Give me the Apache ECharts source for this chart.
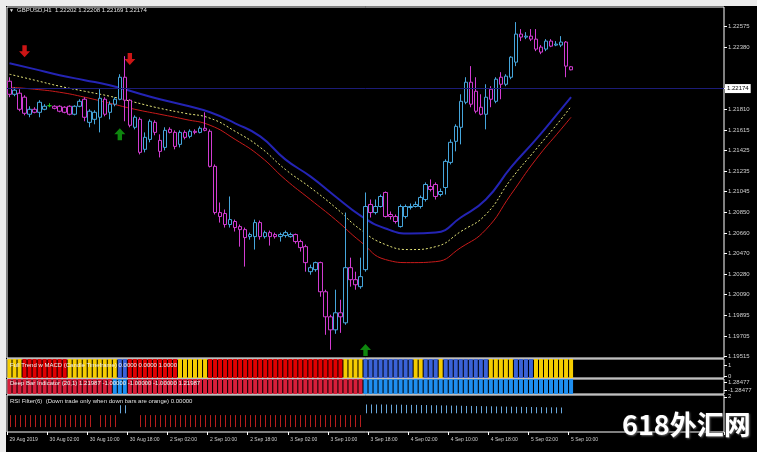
<!DOCTYPE html>
<html><head><meta charset="utf-8">
<script src="https://cdn.jsdelivr.net/npm/echarts@6/dist/echarts.min.js"></script>
<style>html,body{margin:0;padding:0;background:#000;}#c{width:757px;height:452px;}</style>
</head><body><div id="c"></div><script>
// ---------- DATA ----------
const symbol = 'GBPUSD,H1';
const openP = [1.22068,1.21947,1.21957,1.21920,1.21762,1.21808,1.21780,1.21808,1.21841,1.21836,1.21836,1.21827,1.21836,1.21762,1.21836,1.21901,1.21687,1.21715,1.21734,1.21901,1.21780,1.21855,1.21901,1.22105,1.21892,1.21641,1.21715,1.21437,1.21529,1.21687,1.21520,1.21455,1.21622,1.21594,1.21483,1.21594,1.21557,1.21604,1.21594,1.21632,1.21604,1.21279,1.20851,1.20842,1.20740,1.20768,1.20721,1.20693,1.20628,1.20628,1.20758,1.20628,1.20665,1.20647,1.20628,1.20638,1.20628,1.20647,1.20582,1.20535,1.20303,1.20322,1.20387,1.20117,1.19885,1.19764,1.19922,1.19829,1.20340,1.20229,1.20164,1.20322,1.20926,1.20851,1.20907,1.21037,1.20833,1.20814,1.20721,1.20814,1.20898,1.20907,1.20907,1.20972,1.21093,1.21111,1.21018,1.21083,1.21316,1.21511,1.21641,1.21873,1.22059,1.21975,1.21827,1.21762,1.21994,1.21882,1.22105,1.22040,1.22105,1.22245,1.22505,1.22477,1.22486,1.22458,1.22384,1.22366,1.22440,1.22403,1.22403,1.22431,1.22202];
const closeP = [1.21947,1.21985,1.21808,1.21771,1.21808,1.21780,1.21873,1.21836,1.21841,1.21817,1.21790,1.21780,1.21762,1.21836,1.21882,1.21734,1.21790,1.21780,1.21910,1.21762,1.21855,1.21901,1.22105,1.21892,1.21660,1.21734,1.21409,1.21548,1.21697,1.21594,1.21418,1.21613,1.21594,1.21464,1.21594,1.21548,1.21604,1.21594,1.21632,1.21613,1.21279,1.20851,1.20814,1.20740,1.20786,1.20712,1.20693,1.20619,1.20647,1.20758,1.20628,1.20665,1.20628,1.20628,1.20647,1.20665,1.20647,1.20582,1.20526,1.20387,1.20340,1.20387,1.20117,1.19885,1.19764,1.19922,1.19885,1.20340,1.20229,1.20182,1.20257,1.20907,1.20851,1.20907,1.21000,1.20814,1.20814,1.20768,1.20907,1.20907,1.20907,1.20926,1.20991,1.21111,1.21065,1.21000,1.21046,1.21325,1.21502,1.21650,1.21882,1.22059,1.21855,1.21790,1.21762,1.21920,1.21901,1.22087,1.22040,1.22115,1.22291,1.22505,1.22477,1.22486,1.22458,1.22366,1.22338,1.22440,1.22393,1.22412,1.22431,1.22208,1.22174];
const lowP = [1.21920,1.21929,1.21790,1.21752,1.21734,1.21771,1.21734,1.21799,1.21827,1.21808,1.21780,1.21771,1.21752,1.21752,1.21827,1.21697,1.21641,1.21669,1.21594,1.21743,1.21715,1.21836,1.21892,1.21697,1.21641,1.21622,1.21390,1.21409,1.21502,1.21567,1.21362,1.21427,1.21585,1.21437,1.21455,1.21529,1.21539,1.21576,1.21585,1.21604,1.21269,1.20833,1.20758,1.20712,1.20712,1.20675,1.20535,1.20350,1.20600,1.20508,1.20600,1.20610,1.20545,1.20610,1.20582,1.20619,1.20619,1.20563,1.20489,1.20303,1.20275,1.20303,1.20071,1.19718,1.19579,1.19727,1.19736,1.19811,1.20164,1.20136,1.20145,1.20303,1.20805,1.20833,1.20898,1.20805,1.20786,1.20749,1.20712,1.20796,1.20879,1.20898,1.20888,1.20953,1.21046,1.20972,1.21000,1.21018,1.21297,1.21418,1.21483,1.21855,1.21827,1.21771,1.21752,1.21622,1.21827,1.21864,1.21901,1.22022,1.22087,1.22208,1.22440,1.22458,1.22440,1.22347,1.22319,1.22347,1.22384,1.22393,1.22384,1.22105,1.22169];
const highP = [1.22105,1.22012,1.21994,1.21938,1.21836,1.21827,1.21892,1.21855,1.21864,1.21845,1.21845,1.21836,1.21845,1.21845,1.21901,1.21920,1.21808,1.21799,1.21994,1.21920,1.21882,1.21920,1.22133,1.22300,1.21901,1.21752,1.21734,1.21594,1.21715,1.21706,1.21576,1.21641,1.21641,1.21613,1.21613,1.21613,1.21622,1.21622,1.21650,1.21780,1.21622,1.21297,1.20944,1.20879,1.21000,1.20786,1.20740,1.20712,1.20665,1.20786,1.20777,1.20684,1.20684,1.20665,1.20665,1.20684,1.20665,1.20656,1.20600,1.20554,1.20368,1.20396,1.20396,1.20136,1.19904,1.20136,1.20043,1.20851,1.20433,1.20303,1.20433,1.21037,1.20972,1.20972,1.21018,1.21046,1.20861,1.20833,1.20926,1.20926,1.20935,1.20953,1.21009,1.21130,1.21158,1.21130,1.21074,1.21344,1.21529,1.21669,1.21947,1.22105,1.22208,1.22105,1.21947,1.22040,1.22022,1.22105,1.22152,1.22133,1.22300,1.22616,1.22551,1.22523,1.22551,1.22551,1.22403,1.22458,1.22458,1.22440,1.22486,1.22440,1.22208];

// moving averages, read at every 5th bar
const maIdx    = [0,5,10,15,20,25,30,35,40,45,50,55,60,65,70,75,80,85,90,95,100,105,110,112];
const maBlue   = [1.22235,1.22180,1.22124,1.22078,1.22031,1.21966,1.21901,1.21845,1.21780,1.21678,1.21557,1.21344,1.21186,1.21000,1.20823,1.20703,1.20656,1.20665,1.20805,1.20972,1.21269,1.21529,1.21808,1.21920];
const maYellow = [1.22133,1.22078,1.22022,1.21975,1.21929,1.21873,1.21817,1.21771,1.21725,1.21604,1.21455,1.21251,1.21083,1.20898,1.20693,1.20554,1.20508,1.20535,1.20675,1.20833,1.21158,1.21437,1.21715,1.21836];
const maRed    = [1.22013,1.21994,1.21966,1.21920,1.21864,1.21808,1.21762,1.21715,1.21660,1.21529,1.21372,1.21158,1.20972,1.20786,1.20582,1.20415,1.20387,1.20396,1.20526,1.20693,1.21018,1.21344,1.21623,1.21734];

const arrowDownIdx = [3, 24];
const arrowDownPrice = [1.22347, 1.22273];
const arrowUpIdx = [22, 71];
const arrowUpPrice = [1.21576, 1.19578];

const bidPrice = 1.22174;
const priceTicks = [1.22575,1.22380,1.22000,1.21810,1.21615,1.21425,1.21235,1.21045,1.20850,1.20660,1.20470,1.20280,1.20090,1.19895,1.19705,1.19515];

const tickIdx  = [0,8,16,24,32,40,48,56,64,72,80,88,96,104,112];
const tickText = ['29 Aug 2019','30 Aug 02:00','30 Aug 10:00','30 Aug 18:00','2 Sep 02:00','2 Sep 10:00','2 Sep 18:00','3 Sep 02:00','3 Sep 10:00','3 Sep 18:00','4 Sep 02:00','4 Sep 10:00','4 Sep 18:00','5 Sep 02:00','5 Sep 10:00'];

// indicator states per bar (Y=yellow, R=red, B=blue)
const trendState = 'YYYRRRRRRRRRYYYYYYYYYYBBRRRRRRRRRRYYYYYYRRRRRRRRRRRRRRRRRRRRRRRRRRRYYYYBBBBBBBBBBYYBBBYBBBBBBBBBYYYYYBBBBYYYYYYYY';
const deepState  = 'RRRRRRRRRRRRRRRRRRRRRBBBRRRRRRRRRRRRRRRRRRRRRRRRRRRRRRRRRRRRRRRRRRRRRRRBBBBBBBBBBBBBBBBBBBBBBBBBBBBBBBBBBBBBBBBBB';
// RSI filter: -1 down (red), 1 up (blue), 0 none
const rsiState = [-1,-1,-1,-1,-1,-1,-1,-1,-1,-1,-1,-1,-1,-1,-1,-1,-1,0,-1,-1,-1,-1,1,1,0,0,-1,-1,-1,-1,-1,-1,-1,-1,-1,-1,-1,-1,-1,-1,-1,-1,-1,-1,-1,-1,-1,-1,-1,-1,-1,-1,-1,-1,-1,-1,-1,-1,-1,-1,-1,-1,-1,-1,-1,-1,-1,-1,-1,-1,-1,1,1,1,1,1,1,1,1,1,1,1,1,1,1,1,1,1,1,1,1,1,1,1,1,1,1,1,1,1,1,1,1,1,1,1,1,1,1,1,1,1,0,0];
const rsiLow  = rsiState.map(s => s < 0 ? 0.28 : (s > 0 ? 1.06 : null));
const rsiHigh = [0.96,0.96,0.96,0.96,0.96,0.96,0.96,0.96,0.96,0.96,0.96,0.96,0.96,0.96,0.96,0.96,0.96,null,0.96,0.96,0.96,0.96,1.52,1.52,null,null,0.96,0.96,0.96,0.96,0.96,0.96,0.96,0.96,0.96,0.96,0.96,0.96,0.96,0.96,0.96,0.96,0.96,0.96,0.96,0.96,0.96,0.96,0.96,0.96,0.96,0.96,0.96,0.96,0.96,0.96,0.96,0.96,0.96,0.96,0.96,0.96,0.96,0.96,0.96,0.96,0.96,0.96,0.96,0.96,0.96,1.56,1.56,1.56,1.56,1.56,1.55,1.55,1.55,1.54,1.54,1.54,1.53,1.53,1.52,1.52,1.51,1.51,1.50,1.50,1.49,1.48,1.48,1.47,1.47,1.46,1.46,1.45,1.45,1.44,1.44,1.43,1.43,1.42,1.42,1.41,1.41,1.40,1.40,1.40,1.39,null,null];

const panel1Text = 'Full Trend w MACD (Candle Timeframe) 0.0000 0.0000 1.0000';
const panel2Text = 'Deep Bar Indicator (20,1) 1.21987 -1.00000 -1.00000 -1.00000 1.21987';
const panel3Text = 'RSI Filter(6)  (Down trade only when down bars are orange) 0.00000';
const panel1Ticks = [1, 0];
const panel2Ticks = [1.28477, -1.28477];
const panel3Ticks = [2];
const watermark = '618外汇网';

// ---------- CHART ----------
const N = openP.length;
const SLOTS = 143;
const cats = Array.from({length: SLOTS}, (_, i) => String(i));
const tickMap = new Map(tickIdx.map((k, j) => [k, tickText[j]]));
const FONT = "'Liberation Sans', Arial, sans-serif";
const colUp = '#46a6dc', colDown = '#d23cd2';
const trendCol = {Y: '#f5cd00', R: '#e00000', B: '#3a62d8'};
const deepCol = {R: '#d81e3a', B: '#1e8ef0'};

const candleData = openP.map((o, i) => {
  const item = {value: [o, closeP[i], lowP[i], highP[i]]};
  if (o === closeP[i]) item.itemStyle = {borderColor: '#20c020', borderColor0: '#20c020'};
  return item;
});

const L = 7, W = 717;
const grids = [
  {left: L, top: 7, width: W, height: 351},
  {left: L, top: 359, width: W, height: 19},
  {left: L, top: 379, width: W, height: 15},
  {left: L, top: 395, width: W, height: 37}
].map(g => Object.assign(g, {show: true, borderColor: '#ffffff', borderWidth: 1, backgroundColor: '#000'}));

function xAx(gi, show) {
  return {
    type: 'category', gridIndex: gi, data: cats, boundaryGap: true,
    axisLine: {show: false}, splitLine: {show: false},
    axisTick: show ? {show: true, interval: (i) => tickMap.has(i), length: 3, lineStyle: {color: '#fff'}} : {show: false},
    axisLabel: show ? {show: true, interval: (i) => tickMap.has(i), formatter: (v) => tickMap.get(+v) || '',
      align: 'left', margin: 5, color: '#d0d0d0', fontSize: 5, fontFamily: FONT} : {show: false}
  };
}
function hidY(gi, min, max) {
  return {type: 'value', gridIndex: gi, min, max, show: false, splitLine: {show: false}};
}
function labY(gi, min, max, vals, fmt) {
  return {
    type: 'value', gridIndex: gi, min, max, position: 'right', scale: true,
    axisLine: {show: false}, splitLine: {show: false},
    axisTick: {show: true, customValues: vals, length: 3, lineStyle: {color: '#fff'}},
    axisLabel: {show: true, customValues: vals, formatter: fmt, color: '#d0d0d0', fontSize: 6, fontFamily: FONT, margin: 4, align: 'left'}
  };
}

const option = {
  backgroundColor: '#000',
  animation: false,
  grid: grids,
  xAxis: [xAx(0, false), xAx(1, false), xAx(2, false), xAx(3, true)],
  yAxis: [
    labY(0, 1.19503, 1.22756, priceTicks, v => v.toFixed(5)),
    hidY(1, 0, 1),
    labY(1, -0.18, 1.545, panel1Ticks, v => String(Math.round(v))),
    hidY(2, 0, 1),
    labY(2, -2.409, 2.409, panel2Ticks, v => v.toFixed(5)),
    labY(3, 0, 2.1, panel3Ticks, v => String(Math.round(v)))
  ],
  series: [
    {type: 'line', xAxisIndex: 0, yAxisIndex: 0, data: maIdx.map((k, j) => [k, maBlue[j]]), smooth: 0.5, symbol: 'none',
      lineStyle: {color: '#2424b4', width: 2}, silent: true, z: 2},
    {type: 'line', xAxisIndex: 0, yAxisIndex: 0, data: maIdx.map((k, j) => [k, maYellow[j]]), smooth: 0.5, symbol: 'none',
      lineStyle: {color: '#e6e67a', width: 1, type: [2, 2]}, silent: true, z: 2},
    {type: 'line', xAxisIndex: 0, yAxisIndex: 0, data: maIdx.map((k, j) => [k, maRed[j]]), smooth: 0.5, symbol: 'none',
      lineStyle: {color: '#c81a1a', width: 1}, silent: true, z: 2},
    {type: 'candlestick', xAxisIndex: 0, yAxisIndex: 0, data: candleData, barWidth: 4, z: 3,
      itemStyle: {color: '#000', color0: '#000', borderColor: colUp, borderColor0: colDown, borderWidth: 1},
      markLine: {silent: true, symbol: 'none', data: [{yAxis: bidPrice}],
        lineStyle: {color: '#1c1c78', width: 1, type: 'solid'},
        label: {show: true, position: 'end', formatter: bidPrice.toFixed(5), backgroundColor: '#fff', color: '#000',
          fontSize: 6, fontFamily: FONT, padding: [2, 2, 1, 2], distance: 1}}},
    {type: 'scatter', xAxisIndex: 0, yAxisIndex: 0, data: arrowDownIdx.map((k, j) => [k, arrowDownPrice[j]]),
      symbol: 'path://M3,0L7,0L7,6L10,6L5,12L0,6L3,6Z', symbolSize: [11, 12], itemStyle: {color: '#ff1a1a'}, z: 5},
    {type: 'scatter', xAxisIndex: 0, yAxisIndex: 0, data: arrowUpIdx.map((k, j) => [k, arrowUpPrice[j]]),
      symbol: 'path://M5,0L10,6L7,6L7,12L3,12L3,6L0,6Z', symbolSize: [11, 12], itemStyle: {color: '#12a812'}, z: 5},
    {type: 'bar', xAxisIndex: 1, yAxisIndex: 1, barWidth: 4,
      data: trendState.split('').map(s => ({value: 1, itemStyle: {color: trendCol[s]}}))},
    {type: 'bar', xAxisIndex: 2, yAxisIndex: 3, barWidth: 4,
      data: deepState.split('').map(s => ({value: 1, itemStyle: {color: deepCol[s]}}))},
    {type: 'custom', xAxisIndex: 3, yAxisIndex: 5,
      data: rsiState.map((s, i) => s === 0 ? null : [i, rsiLow[i], rsiHigh[i], s]).filter(Boolean),
      renderItem: (params, api) => {
        const a = api.coord([api.value(0), api.value(1)]);
        const b = api.coord([api.value(0), api.value(2)]);
        const x = Math.round(a[0]) + 0.5;
        return {type: 'line', shape: {x1: x, y1: a[1], x2: x, y2: b[1]},
          style: {stroke: api.value(3) > 0 ? '#6aa8dc' : '#b41e1e', lineWidth: 1}};
      }}
  ],
  graphic: [
    {type: 'rect', shape: {x: 0, y: 0, width: 757, height: 6}, style: {fill: '#ececec'}, silent: true},
    {type: 'rect', shape: {x: 0, y: 0, width: 6, height: 452}, style: {fill: '#ececec'}, silent: true},
    {type: 'text', left: 9, top: 8, style: {text: '▼', fill: '#e0e0e0', fontSize: 5, fontFamily: FONT}},
    {type: 'text', left: 17, top: 7, style: {text: symbol + '  ' + [openP[N-1], highP[N-1], lowP[N-1], closeP[N-1]].map(v => v.toFixed(5)).join(' '),
      fill: '#e0e0e0', fontSize: 6, fontFamily: FONT}},
    {type: 'text', left: 10, top: 362, z: 10, style: {text: panel1Text, fill: '#f0f0f0', fontSize: 6, fontFamily: FONT}},
    {type: 'text', left: 10, top: 380, z: 10, style: {text: panel2Text, fill: '#f0f0f0', fontSize: 6, fontFamily: FONT}},
    {type: 'text', left: 10, top: 398, z: 10, style: {text: panel3Text, fill: '#e0e0e0', fontSize: 6, fontFamily: FONT}},
    {type: 'text', left: 622, top: 411, z: 20, style: {text: watermark, fill: '#ffffff', fontSize: 27, fontWeight: 'bold',
      fontFamily: "'Noto Sans CJK SC', sans-serif", textShadowColor: '#666', textShadowBlur: 2, textShadowOffsetX: 1, textShadowOffsetY: 1}}
  ]
};
const chart = echarts.init(document.getElementById('c'));
chart.setOption(option);
</script></body></html>
